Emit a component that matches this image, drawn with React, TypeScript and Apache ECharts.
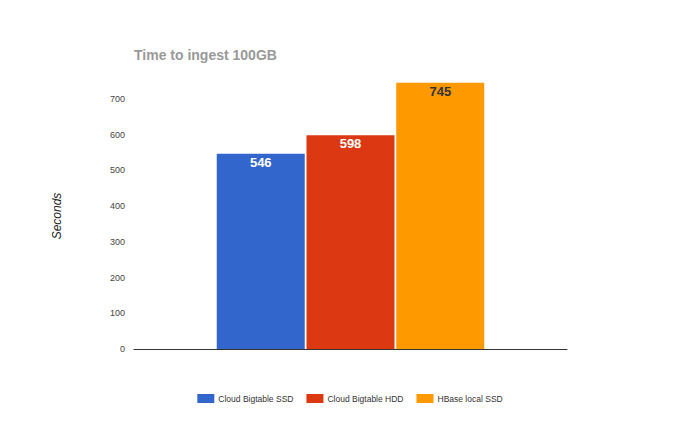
import React, { useEffect, useRef } from "react";
import * as echarts from "echarts";

const categories = ["Time to ingest 100GB"];
const seriesNames = ["Cloud Bigtable SSD", "Cloud Bigtable HDD", "HBase local SSD"];
const seriesValues = [546, 598, 745];
const seriesColors = ["#3366cc", "#dc3912", "#ff9900"];
const labelColors = ["#ffffff", "#ffffff", "#333333"];

export default function App() {
  const ref = useRef<HTMLDivElement>(null);
  useEffect(() => {
    const chart = echarts.init(ref.current!, null, { renderer: "svg" });
    chart.setOption({
      animation: false,
      backgroundColor: "#ffffff",
      title: {
        text: "Time to ingest 100GB",
        left: 129,
        top: 43,
        textStyle: { fontFamily: "Liberation Sans, Arial", fontSize: 14, fontWeight: "bold", color: "#999999" },
      },
      legend: {
        bottom: 24,
        left: "center",
        itemWidth: 17,
        itemHeight: 9,
        itemGap: 13,
        icon: "rect",
        textStyle: { fontFamily: "Liberation Sans, Arial", fontSize: 8.5, color: "#333333", padding: [0, 0, 0, -1] },
        data: seriesNames,
      },
      graphic: [
        {
          type: "text",
          x: 57,
          y: 216,
          rotation: Math.PI / 2,
          style: {
            text: "Seconds",
            fontFamily: "Liberation Sans, Arial",
            fontSize: 12,
            fontStyle: "italic",
            fill: "#222222",
            textAlign: "center",
            textVerticalAlign: "middle",
          },
        },
      ],
      grid: { left: 134, right: 133, top: 63, bottom: 83 },
      xAxis: {
        type: "category",
        data: categories,
        axisTick: { show: false },
        axisLabel: { show: false },
        axisLine: { lineStyle: { color: "#333333", width: 1 } },
      },
      yAxis: {
        type: "value",
        min: 0,
        max: 800,
        interval: 100,
        splitLine: { show: false },
        axisLine: { show: false },
        axisTick: { show: false },
        axisLabel: {
          fontFamily: "Liberation Sans, Arial",
          fontSize: 9,
          color: "#444444",
          margin: 9,
          formatter: (v: number) => (v === 800 ? "" : String(v)),
        },
      },
      series: seriesNames.map((name, i) => ({
        name,
        type: "bar",
        data: [seriesValues[i]],
        barWidth: 88,
        barGap: "2%",
        itemStyle: { color: seriesColors[i] },
        label: {
          show: true,
          position: "insideTop",
          distance: 2,
          fontFamily: "Liberation Sans, Arial",
          fontSize: 13,
          fontWeight: "bold",
          color: labelColors[i],
        },
      })),
    });
    return () => chart.dispose();
  }, []);
  return <div ref={ref} style={{ position: "fixed", left: 0, top: 0, width: 700, height: 432 }} />;
}
